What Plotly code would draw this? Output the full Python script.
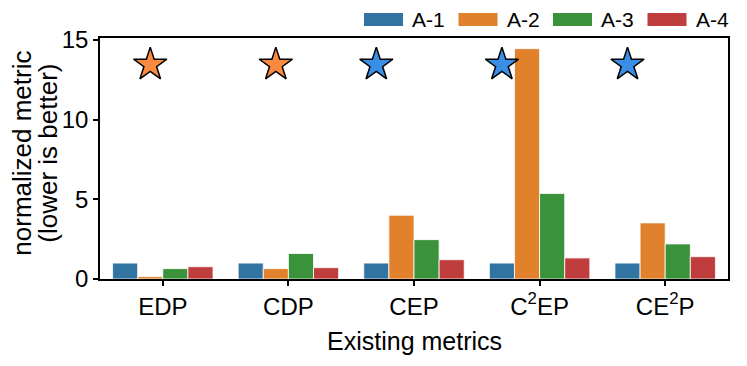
import plotly.graph_objects as go

metrics = ["EDP", "CDP", "CEP", "C<sup>2</sup>EP", "CE<sup>2</sup>P"]
designs = ["A-1", "A-2", "A-3", "A-4"]
a1 = [1.0, 1.0, 1.0, 1.0, 1.0]
a2 = [0.15, 0.65, 4.0, 14.45, 3.52]
a3 = [0.65, 1.6, 2.47, 5.37, 2.2]
a4 = [0.77, 0.71, 1.21, 1.32, 1.40]
series = [a1, a2, a3, a4]

# best design for each metric (marked with a star)
best = ["A-2", "A-2", "A-1", "A-1", "A-1"]
star_y = 13.45

bar_colors = ["#3274a1", "#e1812c", "#3a923a", "#c03d3e"]
star_colors = {"A-1": "#3a8ee6", "A-2": "#f98a3f"}

font = "Liberation Sans, Arial, sans-serif"

fig = go.Figure()
for name, vals, col in zip(designs, series, bar_colors):
    fig.add_trace(go.Bar(
        x=list(range(len(metrics))), y=vals, name=name, showlegend=False,
        marker=dict(color=col, line=dict(color="white", width=0.8)),
    ))

# stars sit over the winning bar of each group
bar_w = 0.2
sx, sc = [], []
for i, b in enumerate(best):
    k = designs.index(b)
    sx.append(i - 0.3 + k * bar_w)
    sc.append(star_colors[b])
fig.add_trace(go.Scatter(
    x=sx, y=[star_y] * len(sx), mode="markers", showlegend=False,
    marker=dict(symbol="star", size=25, color=sc, line=dict(color="black", width=1.5)),
))

# plot box in page pixels (page body has an 8px margin)
plot_l, plot_w, plot_t, plot_h = 100, 628, 38, 241
off = 8

def px(x):
    return (x - plot_l) / plot_w
def py(y):
    return (plot_t + plot_h - y) / plot_h

# legend drawn by hand, matplotlib-style wide swatches above the frame
for k, (name, col) in enumerate(zip(designs, bar_colors)):
    x0 = 364 + k * 94.5
    fig.add_shape(type="rect", xref="paper", yref="paper",
                  x0=px(x0), x1=px(x0 + 39), y0=py(26), y1=py(13),
                  fillcolor=col, line=dict(width=0))
    fig.add_annotation(xref="paper", yref="paper", x=px(x0 + 46), y=py(19.5),
                       text=name, showarrow=False, xanchor="left", yanchor="middle",
                       font=dict(size=21))

# axis titles as annotations so the line spacing matches
fig.add_annotation(xref="paper", yref="paper", x=px(22), y=0.52, textangle=-90,
                   text="normalized metric", showarrow=False,
                   xanchor="center", yanchor="middle", font=dict(size=26))
fig.add_annotation(xref="paper", yref="paper", x=px(48), y=0.52, textangle=-90,
                   text="(lower is better)", showarrow=False,
                   xanchor="center", yanchor="middle", font=dict(size=26))
fig.add_annotation(xref="paper", yref="paper", x=0.5, y=py(341),
                   text="Existing metrics", showarrow=False,
                   xanchor="center", yanchor="middle", font=dict(size=25))

fig.update_layout(
    width=747, height=366,
    margin=dict(l=plot_l - off, r=747 - plot_l + off - plot_w, t=plot_t - off,
                b=366 - plot_t + off - plot_h),
    barmode="group", bargap=0.2, bargroupgap=0,
    plot_bgcolor="white", paper_bgcolor="white",
    font=dict(family=font, size=24, color="black"),
    showlegend=False,
)
fig.update_xaxes(
    range=[-0.5, 4.5], tickmode="array", tickvals=list(range(len(metrics))),
    ticktext=metrics, ticks="outside", ticklen=5, tickwidth=1.5, tickcolor="black",
    showline=True, linecolor="black", linewidth=1.5, mirror=True, showgrid=False,
    tickfont=dict(size=24), automargin=False,
)
fig.update_yaxes(
    range=[0, 15.12], tickvals=[0, 5, 10, 15], ticks="outside", ticklen=5,
    tickwidth=1.5, tickcolor="black", showline=True, linecolor="black",
    linewidth=1.5, mirror=True, showgrid=False, zeroline=False,
    tickfont=dict(size=24), automargin=False,
)

fig.write_html("out.html")
